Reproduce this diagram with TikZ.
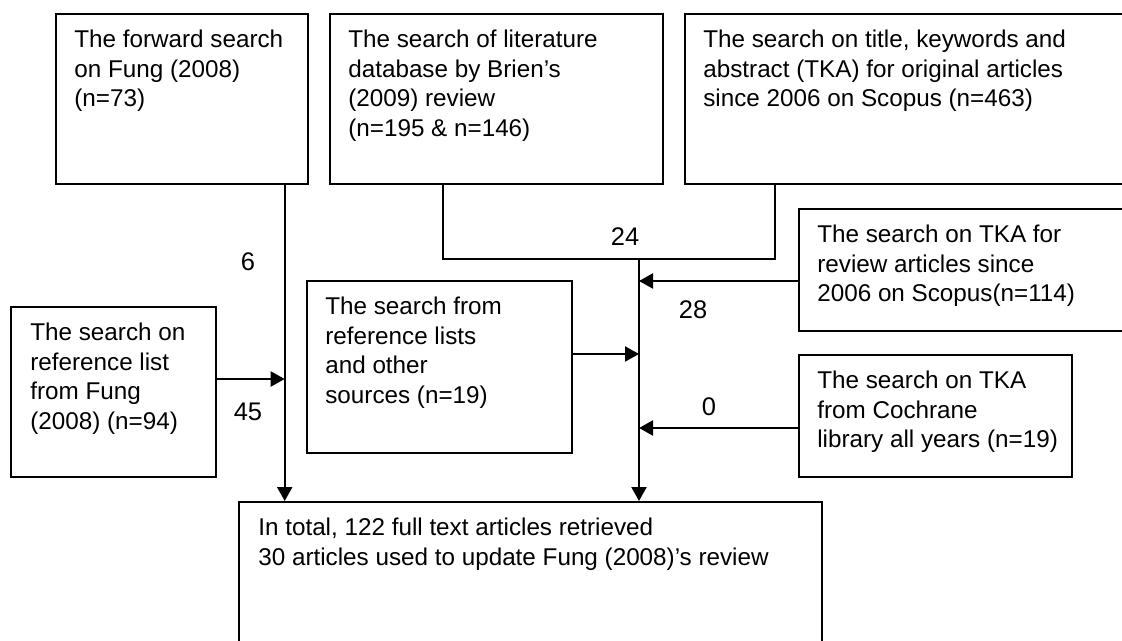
\documentclass[tikz,border=0pt]{standalone}
\usepackage{fontspec}
\setmainfont{Liberation Sans}
\usetikzlibrary{arrows.meta,calc}

\begin{document}
\begin{tikzpicture}[x=0.02cm, y=-0.02cm,
	box/.style={draw, line width=1pt, inner sep=0pt, anchor=north west},
	txt/.style={anchor=north west, align=left, inner sep=0pt, font=\fontsize{13.8}{16.8}\selectfont},
	num/.style={inner sep=0pt, font=\fontsize{14.5}{17}\selectfont},
	arr/.style={line width=1.2pt, -{Triangle[length=0.28cm, width=0.3cm]}}]
	%\draw[help lines] (0,0) grid[step=50] (1122,641);
	\useasboundingbox (0,0) rectangle (1122,641);
	\clip (0,0) rectangle (1122,641);
	\node[box, minimum width=5.04cm, minimum height=3.4cm] (fwd) at (55,13) {};
	\node[txt] (fwdtext) at (74,30) {The forward search\\on Fung (2008)\\(n=73)};
	\node[box, minimum width=6.66cm, minimum height=3.4cm] (brien) at (329,13) {};
	\node[txt] (brientext) at (348,30) {The search of literature\\database by Brien’s\\(2009) review\\(n=195 \& n=146)};
	\node[box, minimum width=8.92cm, minimum height=3.4cm] (tka) at (684,13) {};
	\node[txt] (tkatext) at (703,30) {The search on title, keywords and\\abstract (TKA) for original articles\\since 2006 on Scopus (n=463)};
	\node[box, minimum width=6.64cm, minimum height=2.44cm] (review) at (798,208) {};
	\node[txt] (reviewtext) at (817,225) {The search on TKA for\\review articles since\\2006 on Scopus(n=114)};
	\node[box, minimum width=5.46cm, minimum height=2.44cm] (cochrane) at (798,354) {};
	\node[txt] (cochranetext) at (817,371) {The search on TKA\\from Cochrane\\library all years (n=19)};
	\node[box, minimum width=4.1cm, minimum height=3.4cm] (reflist) at (10,306) {};
	\node[txt] (reflisttext) at (30,323) {The search on\\reference list\\from Fung\\(2008) (n=94)};
	\node[box, minimum width=5.3cm, minimum height=3.44cm] (other) at (306,280) {};
	\node[txt] (othertext) at (325,297) {The search from\\reference lists\\and other\\sources (n=19)};
	\node[box, minimum width=11.66cm, minimum height=3.2cm] (total) at (238,501) {};
	\node[txt] (totaltext) at (258,518) {In total, 122 full text articles retrieved\\30 articles used to update Fung (2008)’s review};
	% left branch
	\coordinate (a1) at ($(fwd.south east)+(-24,0)$);
	\draw[arr] (a1) -- (a1 |- total.north);
	\coordinate (f1) at ($(reflist.north east)+(0,73)$);
	\draw[arr] (f1) -- (f1 -| a1);
	% right branch
	\coordinate (b1) at ($(brien.south west)+(114,0)$);
	\coordinate (c1) at ($(tka.south west)+(91,0)$);
	\draw[line width=1.2pt] (b1) -- ++(0,74) -| (c1);
	\coordinate (j) at ($(b1)+(196,74)$);
	\draw[arr] (j) -- (j |- total.north);
	\coordinate (d1) at ($(review.north west)+(0,73)$);
	\draw[arr] (d1) -- (d1 -| j);
	\coordinate (g1) at ($(other.north east)+(0,74)$);
	\draw[arr] (g1) -- (g1 -| j);
	\coordinate (e1) at ($(cochrane.north west)+(0,74)$);
	\draw[arr] (e1) -- (e1 -| j);
	\node[num] (n6) at (248,262) {6};
	\node[num] (n45) at (248,412) {45};
	\node[num] (n24) at (625,237) {24};
	\node[num] (n28) at (693,310) {28};
	\node[num] (n0) at (709,407) {0};
\end{tikzpicture}
\end{document}
